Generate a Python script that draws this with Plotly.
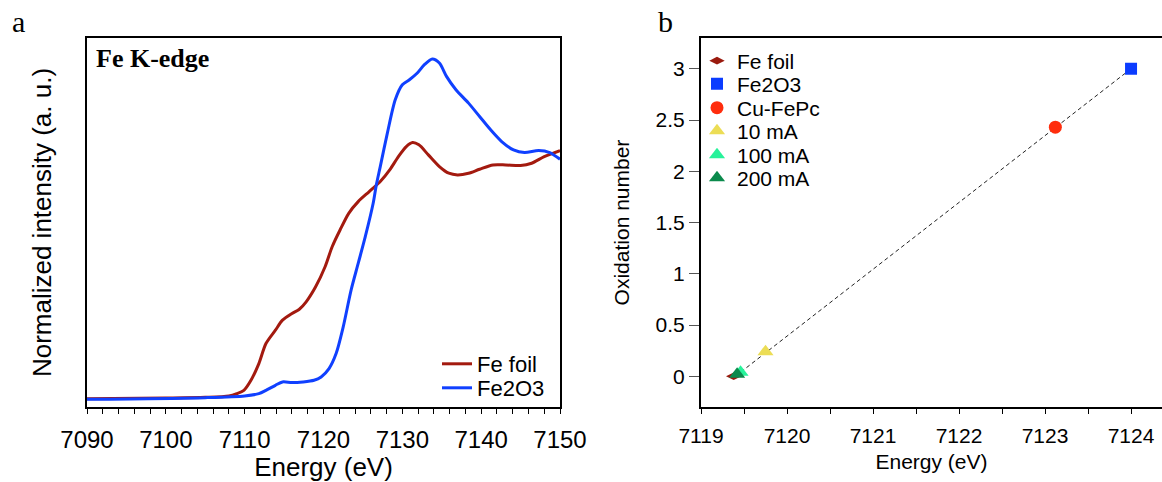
import plotly.graph_objects as go

# panel a: Fe K-edge XANES (normalized)
fe_foil_e = [7090.0, 7100.0, 7105.0, 7108.0, 7109.0, 7109.9, 7110.8, 7111.8, 7112.7, 7113.9,
             7114.8, 7116.0, 7116.9, 7117.8, 7119.0, 7120.2, 7121.1, 7122.1, 7123.2, 7124.4,
             7125.8, 7127.2, 7128.4, 7129.5, 7130.5, 7131.3, 7132.1, 7133.3, 7134.7, 7135.9,
             7137.0, 7138.4, 7139.8, 7141.5, 7143.1, 7145.0, 7146.4, 7148.0, 7150.0]
fe_foil_mu = [0.000, 0.002, 0.004, 0.008, 0.015, 0.025, 0.055, 0.105, 0.165, 0.205,
              0.235, 0.255, 0.267, 0.290, 0.335, 0.395, 0.455, 0.505, 0.555, 0.590,
              0.620, 0.650, 0.685, 0.725, 0.755, 0.767, 0.760, 0.730, 0.695, 0.675,
              0.670, 0.675, 0.687, 0.700, 0.700, 0.698, 0.705, 0.725, 0.743]

fe2o3_e = [7090.0, 7105.0, 7110.0, 7111.8, 7112.7, 7113.9, 7114.8, 7116.0, 7117.4, 7118.8,
           7119.7, 7120.7, 7121.6, 7122.5, 7123.5, 7124.4, 7125.3, 7126.3, 7126.7, 7127.2,
           7128.1, 7129.1, 7130.0, 7130.9, 7131.9, 7132.8, 7133.8, 7134.7, 7135.6, 7136.8,
           7138.4, 7139.8, 7141.2, 7142.6, 7144.1, 7145.5, 7147.3, 7148.7, 7150.0]
fe2o3_mu = [-0.002, 0.003, 0.008, 0.015, 0.025, 0.040, 0.050, 0.048, 0.050, 0.055,
            0.065, 0.090, 0.135, 0.215, 0.325, 0.405, 0.485, 0.585, 0.640, 0.695,
            0.795, 0.895, 0.940, 0.955, 0.975, 1.000, 1.017, 1.005, 0.965, 0.925,
            0.885, 0.845, 0.805, 0.770, 0.745, 0.737, 0.743, 0.737, 0.717]

# panel b: edge energy vs oxidation number
samples = ['Fe foil', 'Fe2O3', 'Cu-FePc', '10 mA', '100 mA', '200 mA']
edge_e = [7119.38, 7124.0, 7123.12, 7119.75, 7119.46, 7119.42]
ox_num = [0.0, 3.0, 2.43, 0.24, 0.04, 0.02]
fit_e = [7119.4, 7124.0]
fit_ox = [0.0, 3.0]

colors = ['#9a1a0e', '#0b3cff', '#ff2d0d', '#ecdd55', '#27f29a', '#0b8a4c']
symbols = ['diamond-wide', 'square', 'circle', 'triangle-up', 'triangle-up', 'triangle-up']
sizes = [11, 12, 13, 14, 14, 14]

SANS = 'Liberation Sans, Arial, sans-serif'
SERIF = 'Liberation Serif, Times New Roman, serif'
W, H = 1162, 482

# one legend box per entry so the row spacing can follow the original
leg_a_rows = [364, 388]
leg_b_rows = [61, 84, 108, 131, 155, 178]

fig = go.Figure()

fig.add_trace(go.Scatter(x=fe_foil_e, y=fe_foil_mu, name='Fe foil', mode='lines',
                         line=dict(color='#a31a0f', width=3, shape='spline', smoothing=0.8),
                         xaxis='x', yaxis='y', legend='legend'))
fig.add_trace(go.Scatter(x=fe2o3_e, y=fe2o3_mu, name='Fe2O3', mode='lines',
                         line=dict(color='#1040ff', width=3, shape='spline', smoothing=0.8),
                         xaxis='x', yaxis='y', legend='legend2'))

fig.add_trace(go.Scatter(x=fit_e, y=fit_ox, mode='lines', showlegend=False,
                         line=dict(color='#222222', width=1, dash='4px,3px'),
                         xaxis='x2', yaxis='y2'))
for i, (s, e, o, c, sym, sz) in enumerate(zip(samples, edge_e, ox_num, colors, symbols, sizes)):
    fig.add_trace(go.Scatter(x=[e], y=[o], name=s, mode='markers',
                             marker=dict(color=c, symbol=sym, size=sz, line=dict(width=0)),
                             xaxis='x2', yaxis='y2', legend='legend%d' % (i + 3)))

legends = {}
for i, row in enumerate(leg_a_rows):
    legends['legend' if i == 0 else 'legend%d' % (i + 1)] = dict(
        x=437 / W, y=1 - row / H, xanchor='left', yanchor='middle',
        bgcolor='rgba(0,0,0,0)', font=dict(size=22), itemwidth=30)
for i, row in enumerate(leg_b_rows):
    legends['legend%d' % (i + 3)] = dict(
        x=697 / W, y=1 - row / H, xanchor='left', yanchor='middle',
        bgcolor='rgba(0,0,0,0)', font=dict(size=21), itemwidth=30)

ax_line = dict(showline=True, linecolor='black', linewidth=2, showgrid=False,
               zeroline=False, automargin=False)

fig.update_layout(
    width=W, height=H,
    margin=dict(l=0, r=0, t=0, b=0),
    plot_bgcolor='white', paper_bgcolor='white',
    font=dict(family=SANS, color='black'),
    xaxis=dict(domain=[87 / W, 560 / W], range=[7090, 7150], anchor='y',
               tickvals=[7090, 7100, 7110, 7120, 7130, 7140, 7150],
               ticks='outside', ticklen=5, tickwidth=1, tickcolor='black',
               minor=dict(dtick=2, ticks='outside', ticklen=5, tickcolor='black'),
               tickfont=dict(size=24), ticklabelstandoff=5, mirror=True,
               title=dict(text='Energy (eV)', font=dict(size=26), standoff=10), **ax_line),
    yaxis=dict(domain=[1 - 407 / H, 1 - 38 / H], range=[-0.025, 1.08], anchor='x',
               showticklabels=False, ticks='', mirror=True,
               title=dict(text='Normalized intensity (a. u.)', font=dict(size=26), standoff=26),
               **ax_line),
    xaxis2=dict(domain=[701 / W, 1.0], range=[7119, 7124.36], anchor='y2',
                dtick=1, ticks='outside', ticklen=5, tickwidth=1, tickcolor='black',
                minor=dict(dtick=0.5, ticks='outside', ticklen=5, tickcolor='black'),
                tickfont=dict(size=21), tickformat='d', ticklabelstandoff=4, mirror=True,
                title=dict(text='Energy (eV)', font=dict(size=21), standoff=8), **ax_line),
    yaxis2=dict(domain=[1 - 407 / H, 1 - 38 / H], range=[-0.3, 3.3], anchor='x2',
                dtick=0.5, ticks='outside', ticklen=10, tickwidth=1, tickcolor='#555555',
                tickfont=dict(size=21), mirror=False,
                title=dict(text='Oxidation number', font=dict(size=21), standoff=20), **ax_line),
    annotations=[
        dict(text='<b>Fe K-edge</b>', x=94 / W, y=1 - 58 / H, xref='paper', yref='paper',
             xanchor='left', yanchor='middle', showarrow=False,
             font=dict(family=SERIF, size=26)),
        dict(text='a', x=10 / W, y=1 - 22 / H, xref='paper', yref='paper',
             xanchor='left', yanchor='middle', showarrow=False,
             font=dict(family=SERIF, size=30)),
        dict(text='b', x=656 / W, y=1 - 22 / H, xref='paper', yref='paper',
             xanchor='left', yanchor='middle', showarrow=False,
             font=dict(family=SERIF, size=30)),
    ],
    **legends,
)

fig.write_html('out.html', config={'displayModeBar': False},
               post_script="document.body.style.margin = '0';")
